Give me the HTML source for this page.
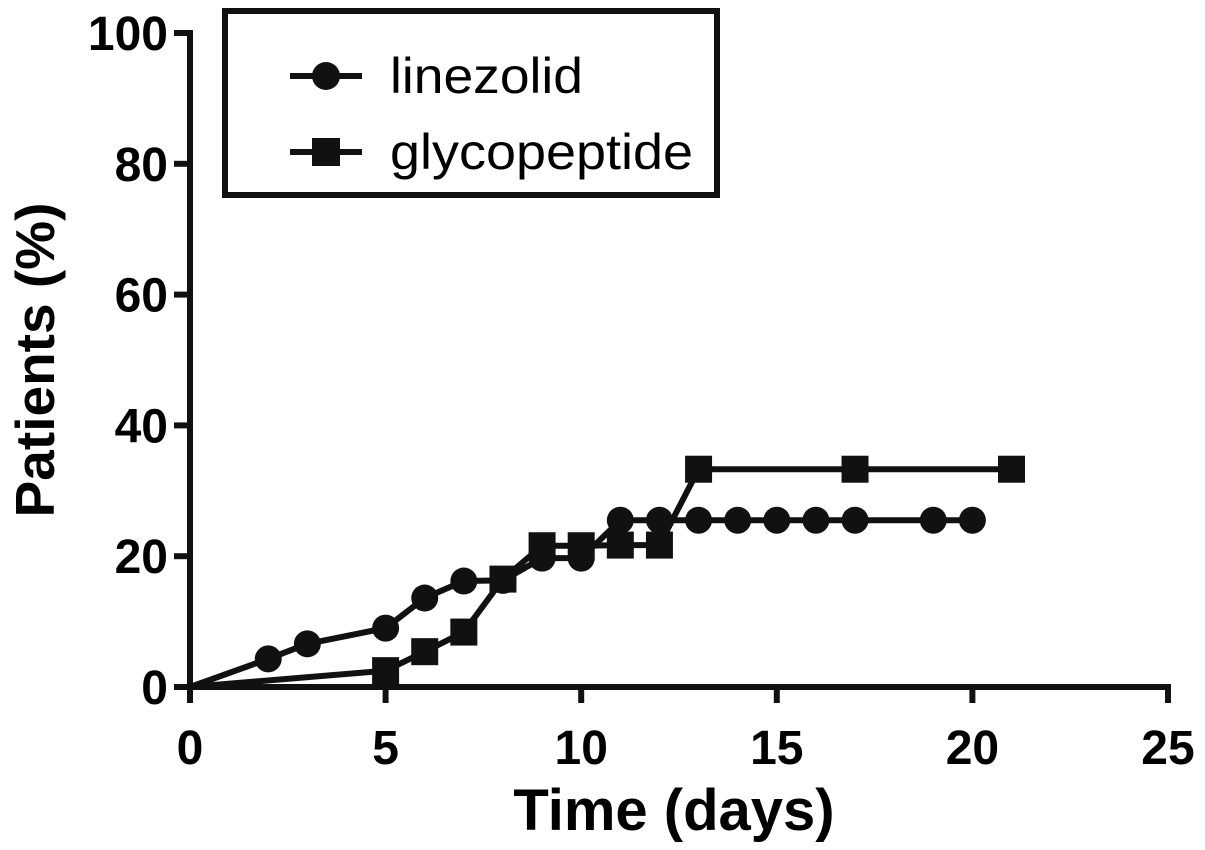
<!DOCTYPE html>
<html><head><meta charset="utf-8"><style>
html,body{margin:0;padding:0;background:#fff;}
svg{display:block;font-family:"Liberation Sans",Arial,sans-serif;}
</style></head><body>
<svg id="chart" width="1205" height="850" viewBox="0 0 1205 850">
<g id="axes"></g>
<g id="series"></g>
<text x="674" y="830" font-size="58" font-weight="bold" text-anchor="middle">Time (days)</text>
<text transform="translate(54,360) rotate(-90)" font-size="55" font-weight="bold" text-anchor="middle">Patients (%)</text>
<g>
<rect x="225" y="11" width="492" height="184" fill="#fff" stroke="#111" stroke-width="6"/>
<g>
<line x1="290" y1="76" x2="362" y2="76" stroke="#111" stroke-width="6"/>
<circle cx="326" cy="76" r="14" fill="#111"/>
<text x="390" y="93" font-size="50" textLength="193" lengthAdjust="spacingAndGlyphs">linezolid</text>
</g>
<g>
<line x1="290" y1="152" x2="362" y2="152" stroke="#111" stroke-width="6"/>
<rect x="312" y="138" width="28" height="28" fill="#111"/>
<text x="390" y="169" font-size="50" textLength="303" lengthAdjust="spacingAndGlyphs">glycopeptide</text>
</g>
</g>
</svg>
<script>
const xTicks=[0,5,10,15,20,25];
const yTicks=[0,20,40,60,80,100];
const linDays=[0,2,3,5,6,7,8,9,10,11,12,13,14,15,16,17,19,20];
const linVals=[0,4.3,6.6,9.0,13.6,16.2,16.3,19.7,19.7,25.5,25.5,25.5,25.5,25.5,25.5,25.5,25.5,25.5];
const glyDays=[0,5,6,7,8,9,10,11,12,13,17,21];
const glyVals=[0,2.5,5.4,8.4,16.5,21.6,21.6,21.7,21.7,33.3,33.3,33.3];
const NS="http://www.w3.org/2000/svg";
const X0=190,X1=1168,Y0=687,Y1=33;
function xs(v){return X0+(v-0)/(25-0)*(X1-X0);}
function ys(v){return Y0-(v-0)/(100-0)*(Y0-Y1);}
function mk(tag,attrs,parent){const e=document.createElementNS(NS,tag);for(const k in attrs)e.setAttribute(k,attrs[k]);parent.appendChild(e);return e;}
const axes=document.getElementById('axes');
let a=mk('line',{x1:X0,y1:Y0,x2:X1+3,y2:Y0,stroke:'#111','stroke-width':6},axes);


a=mk('line',{x1:X0,y1:Y0+3,x2:X0,y2:Y1-3,stroke:'#111','stroke-width':6},axes);


xTicks.forEach(t=>{
  const l=mk('line',{x1:xs(t),y1:Y0,x2:xs(t),y2:Y0+16,stroke:'#111','stroke-width':6},axes);
  
  
  const tx=mk('text',{x:xs(t),y:Y0+77,'font-size':48,'font-weight':'bold','text-anchor':'middle'},axes);
  tx.textContent=t;
  
  
});
yTicks.forEach(t=>{
  const l=mk('line',{x1:X0-16,y1:ys(t),x2:X0,y2:ys(t),stroke:'#111','stroke-width':6},axes);
  
  
  const tx=mk('text',{x:X0-22,y:ys(t)+17,'font-size':48,'font-weight':'bold','text-anchor':'end'},axes);
  tx.textContent=t;
  
  
});
const ser=document.getElementById('series');
function draw(days,vals,shape,name){
  const g=mk('g',{},ser);
  
  
  const pl=mk('polyline',{points:days.map((d,i)=>xs(d)+','+ys(vals[i])).join(' '),fill:'none',stroke:'#111','stroke-width':6,'stroke-linejoin':'round'},g);
  
  
  days.forEach((d,i)=>{
    if(d===0)return;
    let m;
    if(shape==='circle')m=mk('circle',{cx:xs(d),cy:ys(vals[i]),r:13.5,fill:'#111'},g);
    else m=mk('rect',{x:xs(d)-13.5,y:ys(vals[i])-13.5,width:27,height:27,fill:'#111'},g);
    
    
  });
}
draw(glyDays,glyVals,'square','glycopeptide');
draw(linDays,linVals,'circle','linezolid');
</script>
</body></html>
